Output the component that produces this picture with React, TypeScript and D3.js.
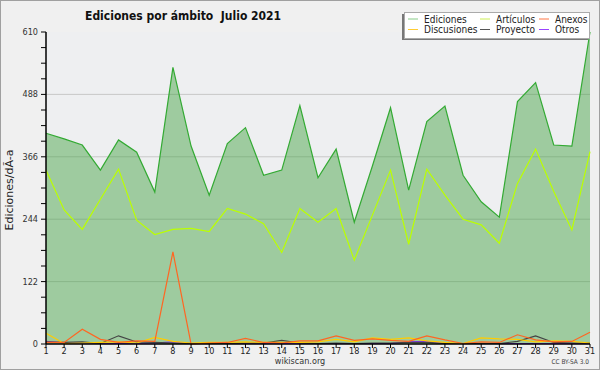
import * as d3 from 'd3';
import React, { useEffect, useRef } from 'react';

const days = d3.range(1, 32);
const ediciones = [412, 401, 389, 340, 399, 375, 297, 541, 387, 291, 392, 423, 330, 340, 466, 325, 381, 238, 348, 462, 301, 435, 465, 330, 278, 248, 474, 511, 389, 387, 610];
const articulos = [340, 262, 224, 283, 342, 242, 214, 224, 226, 220, 265, 254, 235, 179, 265, 238, 265, 164, 252, 340, 195, 342, 291, 244, 233, 197, 314, 381, 298, 223, 376];
const anexos = [3, 3, 29, 9, 3, 6, 5, 180, 0, 2, 3, 11, 3, 2, 6, 6, 16, 7, 10, 7, 5, 16, 8, 1, 4, 3, 18, 8, 4, 5, 23];
const discusiones = [21, 1, 2, 3, 4, 2, 13, 5, 2, 3, 3, 4, 3, 3, 3, 4, 9, 4, 12, 9, 12, 6, 3, 1, 12, 10, 9, 4, 6, 5, 2];
const proyecto = [4, 3, 4, 1, 16, 4, 3, 2, 1, 1, 1, 2, 2, 7, 2, 1, 2, 1, 2, 2, 3, 3, 1, 1, 1, 1, 5, 16, 3, 2, 2];
const otros = [5, 2, 2, 1, 1, 1, 2, 4, 1, 1, 1, 1, 2, 1, 1, 1, 1, 1, 1, 1, 4, 5, 1, 1, 1, 1, 1, 1, 1, 1, 1];
const yTicks = [0, 122, 244, 366, 488, 610];

const legendItems = [
    { label: 'Ediciones', color: '#88cc88' },
    { label: 'Discusiones', color: '#ffcc33' },
    { label: 'Artículos', color: '#ccee55' },
    { label: 'Proyecto', color: '#555555' },
    { label: 'Anexos', color: '#ff7744' },
    { label: 'Otros', color: '#9944ff' },
];

const FONT = '"DejaVu Sans Condensed", "DejaVu Sans", sans-serif';

const App: React.FC = () => {
    const svgRef = useRef<SVGSVGElement | null>(null);

    useEffect(() => {
        document.body.style.margin = '0';
        const width = 600;
        const height = 370;
        const margin = { top: 32, right: 10, bottom: 26, left: 46 };

        d3.select(svgRef.current).selectAll('*').remove();
        const svg = d3.select(svgRef.current)
            .attr('width', width)
            .attr('height', height)
            .style('display', 'block')
            .style('font-family', FONT);

        // outer frame
        svg.append('rect')
            .attr('x', 0.5).attr('y', 0.5)
            .attr('width', width - 1).attr('height', height - 1)
            .attr('fill', '#f0f0f0')
            .attr('stroke', '#a0a0a0');

        const x = d3.scaleLinear().domain([1, 31]).range([margin.left, width - margin.right]);
        const y = d3.scaleLinear().domain([0, 610]).range([height - margin.bottom, margin.top]);

        // plot background
        svg.append('rect')
            .attr('x', x(1)).attr('y', y(610))
            .attr('width', x(31) - x(1)).attr('height', y(0) - y(610))
            .attr('fill', '#eeeff1');

        // grid
        svg.append('g').selectAll('line')
            .data(yTicks.slice(1, -1))
            .enter().append('line')
            .attr('x1', x(1)).attr('x2', x(31))
            .attr('y1', d => y(d)).attr('y2', d => y(d))
            .attr('stroke', '#c8c8c8');

        // Ediciones area
        const area = d3.area<number>()
            .x((_, i) => x(days[i]))
            .y0(y(0))
            .y1(d => y(d));
        svg.append('path')
            .datum(ediciones)
            .attr('d', area)
            .attr('fill', 'rgb(60,160,60)')
            .attr('fill-opacity', 0.45);

        const line = d3.line<number>()
            .x((_, i) => x(days[i]))
            .y(d => y(d));

        const series = [
            { values: ediciones, color: '#33aa33' },
            { values: articulos, color: '#bbff00' },
            { values: otros, color: '#8833ff' },
            { values: proyecto, color: '#444444' },
            { values: discusiones, color: '#ffcc00' },
            { values: anexos, color: '#ff6622' },
        ];
        series.forEach(s => {
            svg.append('path')
                .datum(s.values)
                .attr('d', line)
                .attr('fill', 'none')
                .attr('stroke', s.color)
                .attr('stroke-width', 1.2);
        });

        // y axis
        const yAxis = svg.append('g').attr('transform', `translate(${x(1)},0)`);
        yAxis.append('line')
            .attr('x1', 0).attr('x2', 0)
            .attr('y1', y(0)).attr('y2', y(610))
            .attr('stroke', '#000').attr('stroke-width', 1.5);
        const minor = d3.range(0, 611, 30.5);
        yAxis.selectAll('line.minor')
            .data(minor)
            .enter().append('line')
            .attr('class', 'minor')
            .attr('x1', -5).attr('x2', 0)
            .attr('y1', d => y(d)).attr('y2', d => y(d))
            .attr('stroke', '#000');
        yAxis.selectAll('text')
            .data(yTicks)
            .enter().append('text')
            .attr('x', -8)
            .attr('y', d => y(d) + 3)
            .attr('text-anchor', 'end')
            .style('font-size', '9px')
            .attr('fill', '#333')
            .text(d => d);

        // x axis
        const xAxis = svg.append('g').attr('transform', `translate(0,${y(0)})`);
        xAxis.append('line')
            .attr('x1', x(1)).attr('x2', x(31))
            .attr('stroke', '#000').attr('stroke-width', 1.5);
        xAxis.selectAll('line.tick')
            .data(days)
            .enter().append('line')
            .attr('class', 'tick')
            .attr('x1', d => x(d)).attr('x2', d => x(d))
            .attr('y1', 0).attr('y2', 4)
            .attr('stroke', '#000');
        xAxis.selectAll('text')
            .data(days)
            .enter().append('text')
            .attr('x', d => x(d))
            .attr('y', 10)
            .attr('text-anchor', 'middle')
            .style('font-size', '9px')
            .attr('fill', '#222')
            .text(d => d);

        // axis title
        svg.append('text')
            .attr('transform', `translate(13,${(y(0) + y(610)) / 2 + 2}) rotate(-90)`)
            .attr('text-anchor', 'middle')
            .style('font-family', '"DejaVu Sans", sans-serif')
            .style('font-size', '11px')
            .attr('fill', '#222')
            .text('Ediciones/dÃ-a');

        // title
        svg.append('text')
            .attr('x', 85)
            .attr('y', 20)
            .attr('xml:space', 'preserve')
            .style('font-size', '12px')
            .style('font-weight', 'bold')
            .attr('fill', '#111')
            .text('Ediciones por ámbito  Julio 2021');

        // footer
        svg.append('text')
            .attr('x', 300).attr('y', 364)
            .attr('text-anchor', 'middle')
            .style('font-size', '9px')
            .attr('fill', '#333')
            .text('wikiscan.org');
        svg.append('text')
            .attr('x', 589).attr('y', 364)
            .attr('text-anchor', 'end')
            .style('font-size', '6.5px')
            .attr('fill', '#444')
            .text('CC BY-SA 3.0');

        // legend
        const lg = svg.append('g');
        lg.append('rect')
            .attr('x', 402).attr('y', 14)
            .attr('width', 186).attr('height', 26)
            .attr('fill', '#777');
        lg.append('rect')
            .attr('x', 404.5).attr('y', 12.5)
            .attr('width', 185).attr('height', 26)
            .attr('fill', '#fff')
            .attr('stroke', '#aaa');
        const colX = [408, 480, 539];
        const rowY = [19, 29.5];
        legendItems.forEach((d, i) => {
            const cx = colX[Math.floor(i / 2)];
            const cy = rowY[i % 2];
            lg.append('line')
                .attr('x1', cx).attr('x2', cx + 10)
                .attr('y1', cy).attr('y2', cy)
                .attr('stroke', d.color);
            lg.append('text')
                .attr('x', cx + 16).attr('y', cy + 3.5)
                .style('font-size', '10px')
                .attr('fill', '#222')
                .text(d.label);
        });
    }, []);

    return <svg ref={svgRef}></svg>;
};

export default App;
